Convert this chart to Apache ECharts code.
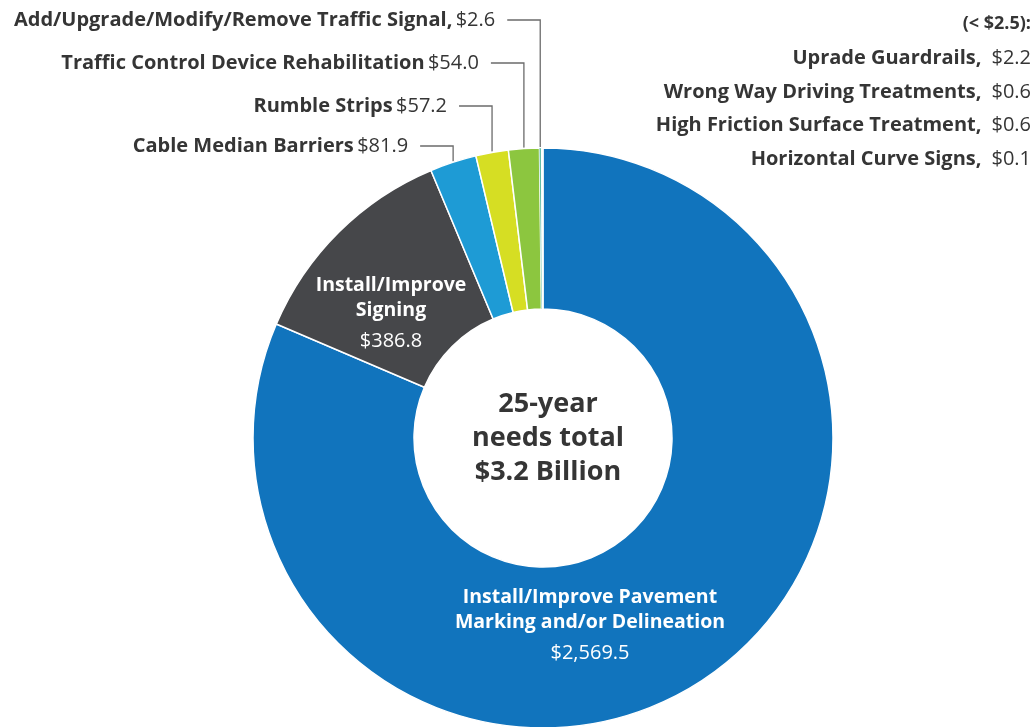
<!DOCTYPE html>
<html>
<head>
<meta charset="utf-8">
<script src="https://cdn.jsdelivr.net/npm/echarts@6/dist/echarts.min.js"></script>
<style>
html,body{margin:0;padding:0;background:#fff;}
#chart{width:1031px;height:727px;}
</style>
</head>
<body>
<div id="chart"></div>
<script>
// ---- data ----
const categories = [
  'Install/Improve Pavement Marking and/or Delineation',
  'Install/Improve Signing',
  'Cable Median Barriers',
  'Rumble Strips',
  'Traffic Control Device Rehabilitation',
  'Add/Upgrade/Modify/Remove Traffic Signal',
  'Uprade Guardrails',
  'Wrong Way Driving Treatments',
  'High Friction Surface Treatment',
  'Horizontal Curve Signs'
];
const values = [2569.5, 386.8, 81.9, 57.2, 54.0, 2.6, 2.2, 0.6, 0.6, 0.1];
const colors = ['#1174bd', '#46474a', '#1e9bd5', '#d6de23', '#8cc63f', '#139a79', '#ffffff', '#ffffff', '#ffffff', '#ffffff'];
const smallTitle = '(< $2.5):';
const smallIdx = [6, 7, 8, 9];
const centerLines = ['25-year', 'needs total', '$3.2 Billion'];

const FONT = '"Open Sans", Lato, sans-serif';
const TXT = '#353535';

function money(v) {
  return '$' + v.toLocaleString('en-US', {minimumFractionDigits: 1, maximumFractionDigits: 1});
}

// outer labels config (label anchor y, text)
const outerLabels = {
  2: {y: 146, text: '{b|Cable Median Barriers} {v|' + money(values[2]) + '}'},
  3: {y: 106, text: '{b|Rumble Strips} {v|' + money(values[3]) + '}'},
  4: {y: 63,  text: '{b|Traffic Control Device Rehabilitation} {v|' + money(values[4]) + '}'},
  5: {y: 20,  text: '{b|Add/Upgrade/Modify/Remove Traffic Signal,} {v|' + money(values[5]) + '}'}
};

const outerRich = {
  b: {fontFamily: FONT, fontWeight: 'bold', fontSize: 20, color: TXT},
  v: {fontFamily: FONT, fontWeight: 'normal', fontSize: 20, color: TXT}
};
const innerRich = {
  b: {fontFamily: FONT, fontWeight: 'bold', fontSize: 19.5, color: '#fff', lineHeight: 25, align: 'center'},
  v: {fontFamily: FONT, fontWeight: 'normal', fontSize: 20, color: '#fff', lineHeight: 37, align: 'center'}
};

const data = categories.map((c, i) => {
  const item = {name: c, value: values[i], itemStyle: {color: colors[i]}};
  if (i >= 5) item.itemStyle.borderWidth = 0.4;
  if (i === 0) {
    item.label = {show: true, position: 'inside', rich: innerRich,
      formatter: '{b|Install/Improve Pavement}\n{b|Marking and/or Delineation}\n{v|' + money(values[0]) + '}'};
    item.labelLine = {show: false};
  } else if (i === 1) {
    item.label = {show: true, position: 'inside', rich: innerRich,
      formatter: '{b|Install/Improve}\n{b|Signing}\n{v|' + money(values[1]) + '}'};
    item.labelLine = {show: false};
  } else if (outerLabels[i]) {
    item.label = {show: true, position: 'outside', rich: outerRich, formatter: outerLabels[i].text};
    item.labelLine = {show: true, lineStyle: {color: '#6b6b6b', width: 1.3}};
  } else {
    item.label = {show: false};
    item.labelLine = {show: false};
  }
  return item;
});

// right-side list of small items
const smallText = ['{t|' + smallTitle + '}'].concat(
  smallIdx.map(i => '{b|' + categories[i] + ',}  {v|' + money(values[i]) + '}')
).join('\n');

const chart = echarts.init(document.getElementById('chart'), null, {renderer: 'canvas'});
chart.setOption({
  backgroundColor: '#ffffff',
  animation: false,
  title: [
    {
      text: smallText,
      left: 1026, top: 0,
      textAlign: 'right',
      textStyle: {
        rich: {
          t: {fontFamily: FONT, fontWeight: 'bold', fontSize: 18, color: TXT, lineHeight: 37},
          b: {fontFamily: FONT, fontWeight: 'bold', fontSize: 20, color: TXT, lineHeight: 33.5},
          v: {fontFamily: FONT, fontWeight: 'normal', fontSize: 20, color: TXT, lineHeight: 33.5}
        }
      }
    },
    {
      text: centerLines.join('\n'),
      left: 543, top: 382,
      textAlign: 'center',
      textStyle: {fontFamily: FONT, fontWeight: 'bold', fontSize: 27, color: TXT, lineHeight: 34}
    }
  ],
  series: [{
    type: 'pie',
    center: [543, 438],
    radius: [129, 290],
    startAngle: 90,
    clockwise: true,
    avoidLabelOverlap: false,
    itemStyle: {borderColor: '#ffffff', borderWidth: 1.5},
    emphasis: {disabled: true},
    labelLine: {length: 10, length2: 10},
    labelLayout: function (p) {
      const i = p.dataIndex;
      if (i === 0) return {x: 590, y: 628, align: 'center', verticalAlign: 'middle'};
      if (i === 1) return {x: 391, y: 316, align: 'center', verticalAlign: 'middle'};
      const o = outerLabels[i];
      if (o && p.labelLinePoints) {
        const s = p.labelLinePoints[0];
        const vx = s[0];
        return {
          x: vx - 45, y: o.y, align: 'right', verticalAlign: 'middle',
          labelLinePoints: [[vx, s[1] - 1], [vx, o.y], [vx - 33, o.y]]
        };
      }
    },
    data: data
  }]
});
</script>
</body>
</html>
